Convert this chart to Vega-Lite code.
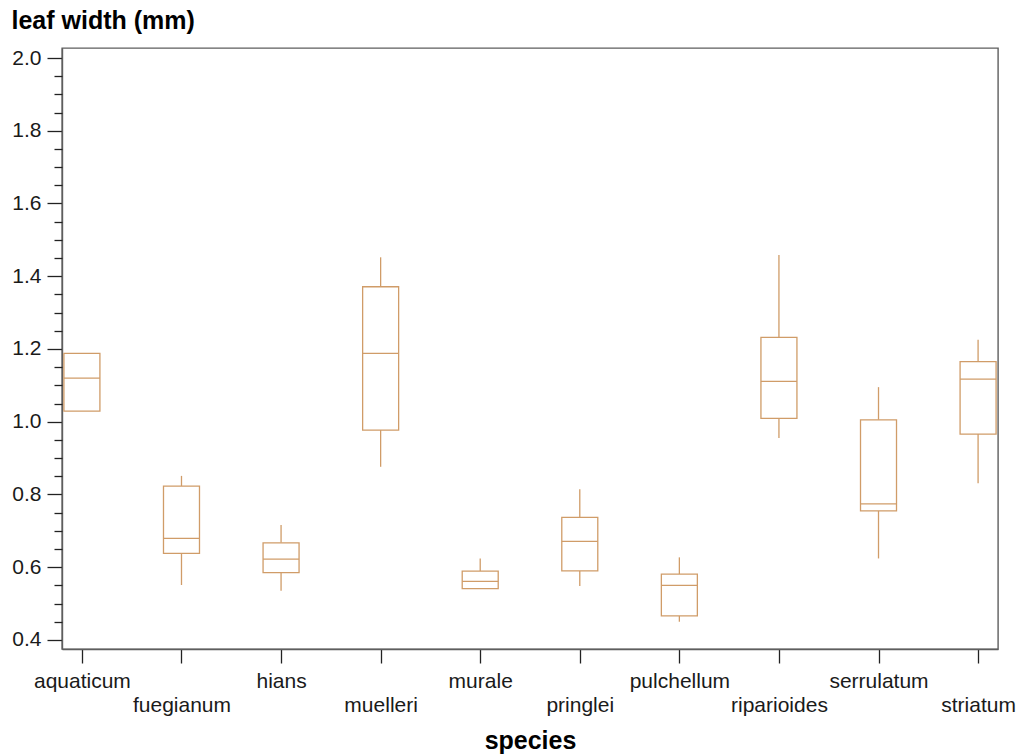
{
  "$schema": "https://vega.github.io/schema/vega-lite/v6.json",
  "autosize": {"type": "none"},
  "padding": {"left": 62, "top": 48, "right": 21, "bottom": 107},
  "width": 936,
  "height": 601,
  "background": "white",
  "config": {
    "view": {"stroke": "#5e5e5e", "strokeWidth": 1.4},
    "font": "Liberation Sans",
    "axis": {
      "labelFont": "Liberation Sans",
      "labelFontSize": 21,
      "labelColor": "#1a1a1a",
      "titleFont": "Liberation Sans",
      "titleFontWeight": "bold",
      "titleFontSize": 25,
      "titleColor": "#000",
      "domainColor": "#5e5e5e",
      "domainWidth": 1.4,
      "tickColor": "#222",
      "tickWidth": 1.3,
      "grid": false
    }
  },
  "data": {
    "values": [
      {"species": "aquaticum", "lo": 1.029, "q1": 1.029, "med": 1.120, "q3": 1.188, "hi": 1.188},
      {"species": "fuegianum", "lo": 0.551, "q1": 0.638, "med": 0.679, "q3": 0.823, "hi": 0.851},
      {"species": "hians", "lo": 0.535, "q1": 0.585, "med": 0.622, "q3": 0.667, "hi": 0.716},
      {"species": "muelleri", "lo": 0.876, "q1": 0.977, "med": 1.188, "q3": 1.371, "hi": 1.452},
      {"species": "murale", "lo": 0.541, "q1": 0.541, "med": 0.561, "q3": 0.589, "hi": 0.624},
      {"species": "pringlei", "lo": 0.548, "q1": 0.590, "med": 0.671, "q3": 0.737, "hi": 0.814},
      {"species": "pulchellum", "lo": 0.450, "q1": 0.466, "med": 0.550, "q3": 0.581, "hi": 0.627},
      {"species": "riparioides", "lo": 0.955, "q1": 1.009, "med": 1.111, "q3": 1.232, "hi": 1.458},
      {"species": "serrulatum", "lo": 0.624, "q1": 0.755, "med": 0.774, "q3": 1.005, "hi": 1.095},
      {"species": "striatum", "lo": 0.831, "q1": 0.966, "med": 1.117, "q3": 1.165, "hi": 1.225}
    ]
  },
  "encoding": {
    "x": {
      "field": "species",
      "type": "nominal",
      "sort": null,
      "scale": {"type": "point", "padding": 0.2},
      "axis": {
        "title": "species",
        "labelAngle": 0,
        "labelBaseline": "top",
        "labelLineHeight": 24,
        "labelPadding": 7,
        "labelOverlap": false,
        "labelBound": false,
        "tickSize": 14,
        "labelExpr": "indexof(['fuegianum','muelleri','pringlei','riparioides','striatum'], datum.value) >= 0 ? ['', datum.label] : datum.label",
        "titleX": 468,
        "titleY": 99,
        "titleAlign": "center",
        "titleBaseline": "alphabetic"
      }
    }
  },
  "layer": [
    {
      "mark": {"type": "rule", "color": "#D09C68", "strokeWidth": 1.3},
      "encoding": {
        "y": {
          "field": "lo",
          "type": "quantitative",
          "scale": {"domain": [0.375, 2.0275], "nice": false, "zero": false},
          "axis": {
            "orient": "left",
            "values": [0.4, 0.6, 0.8, 1.0, 1.2, 1.4, 1.6, 1.8, 2.0],
            "format": ".1f",
            "tickSize": 15,
            "labelPadding": 6,
            "title": "leaf width (mm)",
            "titleAngle": 0,
            "titleAlign": "left",
            "titleBaseline": "alphabetic",
            "titleX": -51,
            "titleY": -19.5
          }
        },
        "y2": {"field": "q1"}
      }
    },
    {
      "mark": {"type": "rule", "color": "#D09C68", "strokeWidth": 1.3},
      "encoding": {
        "y": {
          "field": "q3",
          "type": "quantitative",
          "axis": {
            "orient": "left",
            "values": [0.45, 0.5, 0.55, 0.65, 0.7, 0.75, 0.85, 0.9, 0.95, 1.05, 1.1, 1.15, 1.25, 1.3, 1.35, 1.45, 1.5, 1.55, 1.65, 1.7, 1.75, 1.85, 1.9, 1.95],
            "labels": false,
            "domain": false,
            "tickSize": 8,
            "title": null
          }
        },
        "y2": {"field": "hi"}
      }
    },
    {
      "mark": {"type": "bar", "size": 36, "fill": "white", "stroke": "#D09C68", "strokeWidth": 1.3},
      "encoding": {
        "y": {"field": "q1", "type": "quantitative", "axis": null},
        "y2": {"field": "q3"}
      }
    },
    {
      "mark": {"type": "tick", "size": 36, "thickness": 1.3, "color": "#D09C68", "opacity": 1},
      "encoding": {
        "y": {"field": "med", "type": "quantitative", "axis": null}
      }
    }
  ],
  "resolve": {"axis": {"y": "independent"}}
}
